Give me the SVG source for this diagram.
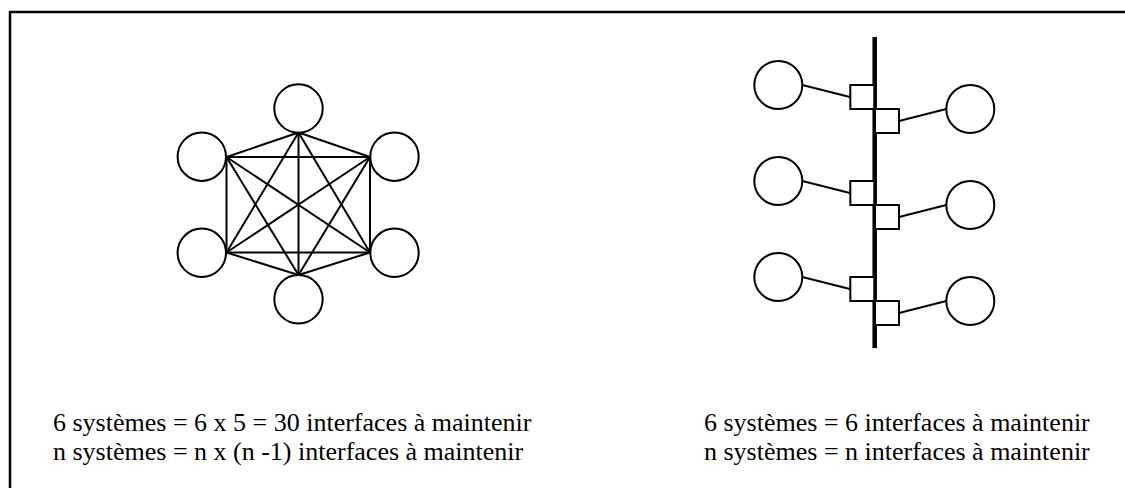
<svg xmlns="http://www.w3.org/2000/svg" width="1125" height="488" viewBox="0 0 1125 488">
<style>
.c{fill:#fff;stroke:#000;stroke-width:2}
.s{fill:#fff;stroke:#000;stroke-width:2}
.l{stroke:#000;stroke-width:2;fill:none}
text{font-family:'Liberation Serif','Times New Roman','DejaVu Serif',serif;font-size:26px;fill:#000}
</style>
<rect width="1125" height="488" fill="#fff"/>
<path d="M10 490 V12 H1127" fill="none" stroke="#000" stroke-width="2.5"/>
<g id="connectors">
<g class="l">
<line x1="298.5" y1="132.5" x2="226.5" y2="157"/>
<line x1="298.5" y1="132.5" x2="370" y2="157"/>
<line x1="298.5" y1="132.5" x2="226.5" y2="252.5"/>
<line x1="298.5" y1="132.5" x2="370" y2="252.5"/>
<line x1="298.5" y1="132.5" x2="298.5" y2="275"/>
<line x1="226.5" y1="157" x2="370" y2="157"/>
<line x1="226.5" y1="157" x2="226.5" y2="252.5"/>
<line x1="226.5" y1="157" x2="370" y2="252.5"/>
<line x1="226.5" y1="157" x2="298.5" y2="275"/>
<line x1="370" y1="157" x2="226.5" y2="252.5"/>
<line x1="370" y1="157" x2="370" y2="252.5"/>
<line x1="370" y1="157" x2="298.5" y2="275"/>
<line x1="226.5" y1="252.5" x2="370" y2="252.5"/>
<line x1="226.5" y1="252.5" x2="298.5" y2="275"/>
<line x1="370" y1="252.5" x2="298.5" y2="275"/>
<line x1="802.3" y1="85" x2="850" y2="97"/>
<line x1="802.3" y1="181" x2="850" y2="193"/>
<line x1="802.3" y1="277" x2="850" y2="289"/>
<line x1="899" y1="121" x2="946.3" y2="109"/>
<line x1="899" y1="217" x2="946.3" y2="205"/>
<line x1="899" y1="313" x2="946.3" y2="301"/>
</g>
<line id="bus" x1="874.7" y1="37" x2="874.7" y2="348" stroke="#000" stroke-width="4.5"/>
</g>
<g id="n-top"><circle class="c" cx="298.5" cy="108.5" r="24.2"/></g>
<g id="n-ul"><circle class="c" cx="201.8" cy="156.7" r="24.2"/></g>
<g id="n-ur"><circle class="c" cx="394.5" cy="156.7" r="24.2"/></g>
<g id="n-ll"><circle class="c" cx="201.8" cy="252.8" r="24.2"/></g>
<g id="n-lr"><circle class="c" cx="394.5" cy="252.8" r="24.2"/></g>
<g id="n-bot"><circle class="c" cx="298.5" cy="299.3" r="24.2"/></g>
<g id="r-l1"><circle class="c" cx="778.3" cy="85" r="24"/></g>
<g id="r-l2"><circle class="c" cx="778.3" cy="181" r="24"/></g>
<g id="r-l3"><circle class="c" cx="778.3" cy="277" r="24"/></g>
<g id="r-r1"><circle class="c" cx="970.3" cy="109" r="24"/></g>
<g id="r-r2"><circle class="c" cx="970.3" cy="205" r="24"/></g>
<g id="r-r3"><circle class="c" cx="970.3" cy="301" r="24"/></g>
<g id="i-l1"><rect class="s" x="850.3" y="85" width="24" height="24"/></g>
<g id="i-l2"><rect class="s" x="850.3" y="181" width="24" height="24"/></g>
<g id="i-l3"><rect class="s" x="850.3" y="277" width="24" height="24"/></g>
<g id="i-r1"><rect class="s" x="875" y="109" width="24" height="24"/></g>
<g id="i-r2"><rect class="s" x="875" y="205" width="24" height="24"/></g>
<g id="i-r3"><rect class="s" x="875" y="301" width="24" height="24"/></g>
<g id="text-left">
<text x="53" y="431">6 systèmes = 6 x 5 = 30 interfaces à maintenir</text>
<text x="53" y="460">n systèmes = n x (n -1) interfaces à maintenir</text>
</g>
<g id="text-right">
<text x="704" y="431">6 systèmes = 6 interfaces à maintenir</text>
<text x="704" y="460">n systèmes = n interfaces à maintenir</text>
</g>
</svg>
